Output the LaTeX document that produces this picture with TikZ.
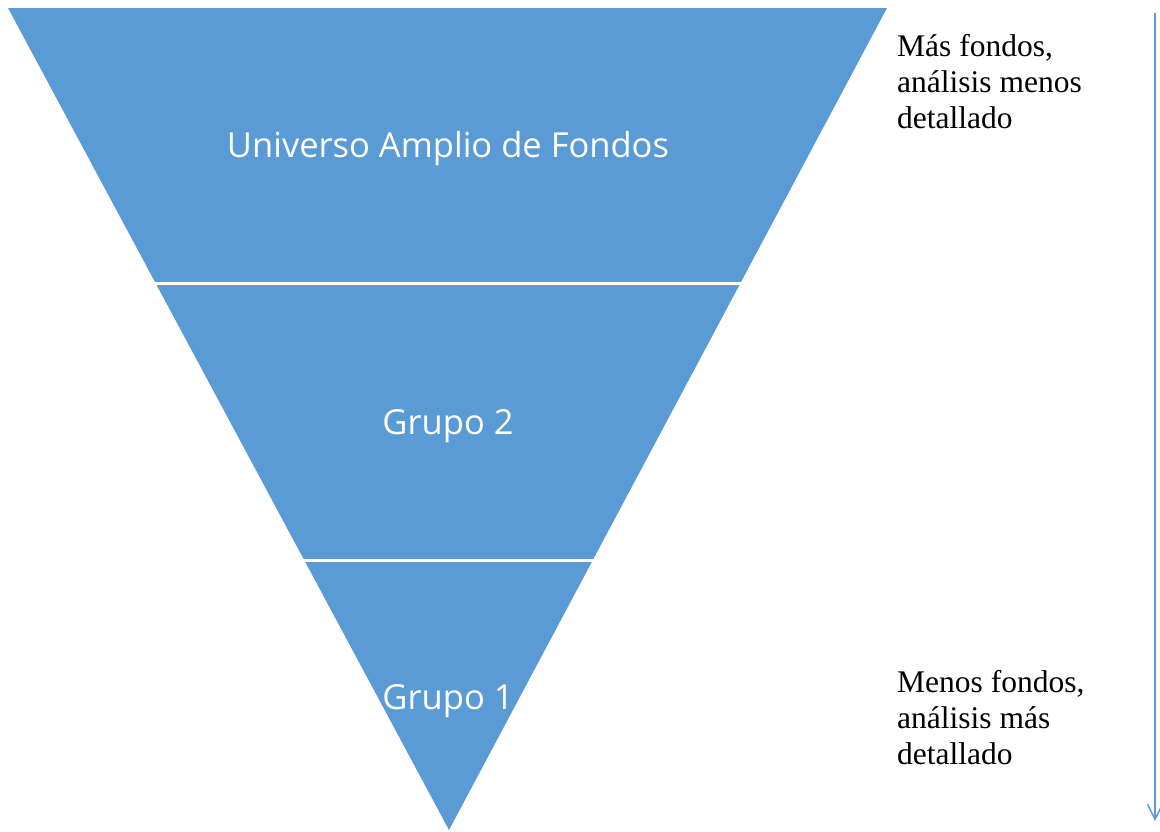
\documentclass[tikz,border=0pt]{standalone}
\usepackage{fontspec}
\setmainfont{Liberation Serif}
\newfontfamily\labelfont{Open Sans}
\usepackage{xcolor}
\usetikzlibrary{arrows.meta}
\definecolor{funnelblue}{HTML}{5B9BD5}

\begin{document}
\begin{tikzpicture}[x=1pt,y=-1pt,>={Straight Barb[length=15pt,width=15pt]},
    band/.style={fill=funnelblue,draw=none},
    cut/.style={draw=white,line width=3pt},
    level/.style={text=white,font=\labelfont\fontsize{34.5}{40}\selectfont,inner sep=0pt},
    side note/.style={anchor=west,align=left,inner sep=0pt,font=\fontsize{31.5}{36}\selectfont}]

            \useasboundingbox (0,0) rectangle (1160,831);

            \coordinate (tl) at (8,8);
            \coordinate (tr) at (887,8);
            \coordinate (tip) at (449,830);

            \fill[band] (tl) -- (tr) -- (tip) -- cycle;
            \draw[cut] (150,283) -- (748,283);
            \draw[cut] (297,560) -- (601,560);

            \node[level] (universo) at (448,149) {Universo Amplio de Fondos};
            \node[level] (grupo2) at (448,426) {Grupo 2};
            \node[level] (grupo1) at (448,701) {Grupo 1};

            \node[side note] (mas) at (897,82) {Más fondos,\\análisis menos\\detallado};
            \node[side note] (menos) at (897,718) {Menos fondos,\\análisis más\\detallado};

            \coordinate (arrtop) at (1155,13);
            \coordinate (arrend) at (1155,821);
            \draw[->,funnelblue,line width=1.5pt] (arrtop) to (arrend);

            ;
        \end{tikzpicture}
\end{document}
